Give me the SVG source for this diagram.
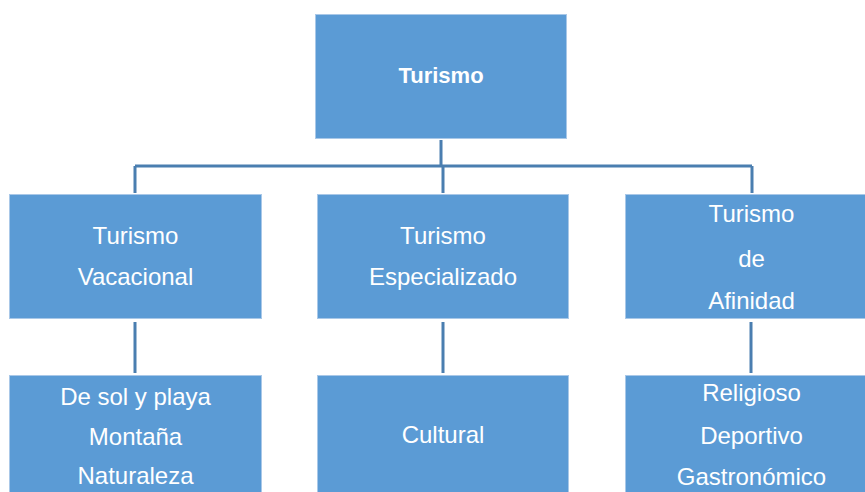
<svg xmlns="http://www.w3.org/2000/svg" width="865" height="492" viewBox="0 0 865 492">
<style>
.box{fill:#5b9bd5;stroke:#a9c8e8;stroke-width:1}
.t{font-family:"Liberation Sans",Arial,sans-serif;font-size:24px;fill:#ffffff;text-anchor:middle}
.b{font-weight:bold;font-size:22px}
.c{stroke:#4a7eb0;stroke-width:3;fill:none}
</style>
<rect x="0" y="0" width="865" height="492" fill="#ffffff"/>
<g id="connectors">
<path class="c" d="M441 140 V166 M135 166 H752 M135 166 V193 M443 166 V193 M752 166 V193"/>
<path class="c" d="M135 322 V373 M443 322 V373 M751 322 V373"/>
</g>
<g id="n-turismo">
<rect class="box" x="315.5" y="14.5" width="251" height="124"/>
<text class="t b" x="441" y="83">Turismo</text>
</g>
<g id="n-vacacional">
<rect class="box" x="9.5" y="194.5" width="252" height="124"/>
<text class="t" x="135.5" y="244">Turismo</text>
<text class="t" x="135.5" y="285">Vacacional</text>
</g>
<g id="n-especializado">
<rect class="box" x="317.5" y="194.5" width="251" height="124"/>
<text class="t" x="443" y="244">Turismo</text>
<text class="t" x="443" y="285">Especializado</text>
</g>
<g id="n-afinidad">
<rect class="box" x="625.5" y="194.5" width="252" height="124"/>
<text class="t" x="751.5" y="222">Turismo</text>
<text class="t" x="751.5" y="267">de</text>
<text class="t" x="751.5" y="309">Afinidad</text>
</g>
<g id="n-vacacional-tipos">
<rect class="box" x="9.5" y="375.5" width="252" height="130"/>
<text class="t" x="135.5" y="405">De sol y playa</text>
<text class="t" x="135.5" y="445">Montaña</text>
<text class="t" x="135.5" y="484">Naturaleza</text>
</g>
<g id="n-cultural">
<rect class="box" x="317.5" y="375.5" width="251" height="130"/>
<text class="t" x="443" y="443">Cultural</text>
</g>
<g id="n-afinidad-tipos">
<rect class="box" x="625.5" y="375.5" width="252" height="130"/>
<text class="t" x="751.5" y="401">Religioso</text>
<text class="t" x="751.5" y="444">Deportivo</text>
<text class="t" x="751.5" y="485">Gastronómico</text>
</g>
</svg>
